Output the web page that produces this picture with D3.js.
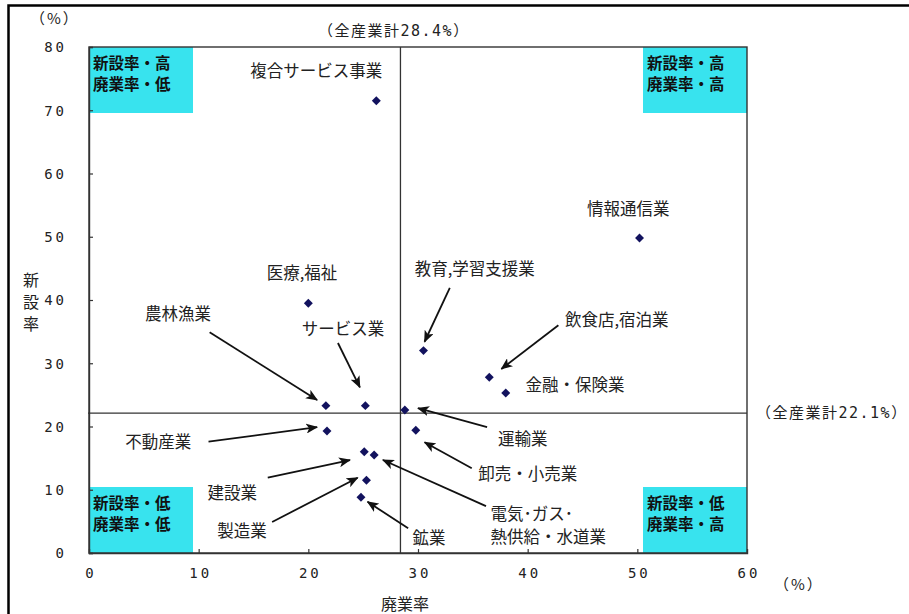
<!DOCTYPE html>
<html lang="ja">
<head>
<meta charset="utf-8">
<script src="https://cdn.jsdelivr.net/npm/d3@7"></script>
<style>
  html, body { margin: 0; padding: 0; background: #fff; }
  svg { display: block; }
  .num { font-family: "DejaVu Sans Mono", "Liberation Mono", monospace; font-size: 14px; fill: #222; }
  .cat { font-family: "Noto Sans CJK JP", "Noto Sans", sans-serif; font-size: 16.5px; fill: #222; }
  .quad { font-family: "Noto Sans CJK JP", sans-serif; font-size: 15.5px; font-weight: bold; fill: #111; }
  .ref { font-family: "DejaVu Sans Mono", "Noto Sans CJK JP", monospace; font-size: 15px; fill: #222; letter-spacing: 1.5px; }
  .unit { font-family: "Noto Sans CJK JP", sans-serif; font-size: 15px; fill: #222; letter-spacing: 2px; }
  .title { font-family: "Noto Sans CJK JP", sans-serif; font-size: 16px; fill: #222; }
</style>
</head>
<body>
<script>
// Industry names, closure rate (x, %) and opening rate (y, %)
const industries = [
  "複合サービス事業", "情報通信業", "医療,福祉", "教育,学習支援業", "飲食店,宿泊業",
  "金融・保険業", "農林漁業", "サービス業", "運輸業", "不動産業",
  "卸売・小売業", "建設業", "電気・ガス・熱供給・水道業", "製造業", "鉱業"
];
const closureRate = [26.2, 50.2, 20.0, 30.5, 36.5, 38.0, 21.6, 25.2, 28.8, 21.7, 29.8, 25.1, 26.0, 25.3, 24.8];
const openingRate = [71.5, 49.8, 39.5, 32.0, 27.8, 25.3, 23.3, 23.3, 22.6, 19.3, 19.4, 16.0, 15.5, 11.5, 8.8];

// All-industry totals used as the quadrant dividers
const totalClosure = 28.4;
const totalOpening = 22.1;

const xTicks = [0, 10, 20, 30, 40, 50, 60];
const yTicks = [0, 10, 20, 30, 40, 50, 60, 70, 80];

// Quadrant captions
const quadrants = [
  { corner: "tl", lines: ["新設率・高", "廃業率・低"] },
  { corner: "tr", lines: ["新設率・高", "廃業率・高"] },
  { corner: "bl", lines: ["新設率・低", "廃業率・低"] },
  { corner: "br", lines: ["新設率・低", "廃業率・高"] }
];

// Label placement in data units: text anchor, and optional arrow from -> to
const labelLayout = [
  { i: 0,  lines: ["複合サービス事業"], at: [14.7, 76.4] },
  { i: 1,  lines: ["情報通信業"], at: [45.4, 54.6] },
  { i: 2,  lines: ["医療,福祉"], at: [16.2, 44.4] },
  { i: 3,  lines: ["教育,学習支援業"], at: [29.7, 45.1], from: [32.9, 41.9], to: [30.6, 33.4] },
  { i: 4,  lines: ["飲食店,宿泊業"], at: [43.4, 37.0], from: [42.8, 36.0], to: [37.6, 29.1] },
  { i: 5,  lines: ["金融・保険業"], at: [39.8, 26.7] },
  { i: 6,  lines: ["農林漁業"], at: [5.1, 37.9], from: [11.0, 34.9], to: [20.8, 24.2] },
  { i: 7,  lines: ["サービス業"], at: [19.4, 35.6], from: [22.7, 33.2], to: [24.7, 26.2] },
  { i: 8,  lines: ["運輸業"], at: [37.3, 18.2], from: [36.3, 19.9], to: [30.0, 22.9] },
  { i: 9,  lines: ["不動産業"], at: [3.3, 17.7], from: [10.9, 17.6], to: [20.8, 19.9] },
  { i: 10, lines: ["卸売・小売業"], at: [35.5, 12.6], from: [34.9, 13.4], to: [30.6, 17.5] },
  { i: 11, lines: ["建設業"], at: [10.8, 9.6], from: [16.3, 11.9], to: [23.8, 14.7] },
  { i: 12, lines: ["電気･ガス･", "熱供給・水道業"], at: [36.6, 6.3], from: [36.2, 7.4], to: [26.8, 14.7] },
  { i: 13, lines: ["製造業"], at: [11.7, 3.6], from: [16.7, 4.9], to: [24.5, 11.9] },
  { i: 14, lines: ["鉱業"], at: [29.5, 2.5], from: [29.1, 3.9], to: [25.4, 8.1] }
];

const W = 909, H = 614;
const plot = { left: 89, right: 747, top: 47, bottom: 553 };

const x = d3.scaleLinear().domain([0, 60]).range([plot.left, plot.right]);
const y = d3.scaleLinear().domain([0, 80]).range([plot.bottom, plot.top]);

const svg = d3.select("body").append("svg")
  .attr("width", W).attr("height", H)
  .attr("viewBox", `0 0 ${W} ${H}`);

svg.append("rect").attr("width", W).attr("height", H).attr("fill", "#fff");

// Outer frame around the figure
svg.append("rect")
  .attr("x", 8.5).attr("y", 5.5)
  .attr("width", W + 20).attr("height", H + 20)
  .attr("fill", "none").attr("stroke", "#000").attr("stroke-width", 2.5);

const defs = svg.append("defs");
defs.append("marker")
  .attr("id", "arrowhead")
  .attr("viewBox", "0 0 12 10")
  .attr("refX", 11).attr("refY", 5)
  .attr("markerWidth", 12).attr("markerHeight", 10)
  .attr("markerUnits", "userSpaceOnUse")
  .attr("orient", "auto")
  .append("path").attr("d", "M0,0 L12,5 L0,10 L3,5 Z").attr("fill", "#111");

// Quadrant caption boxes
const boxW = 104, boxH = 66;
const qg = svg.append("g");
quadrants.forEach(q => {
  const bx = q.corner.endsWith("l") ? x(0) : x(60) - boxW;
  const by = q.corner.startsWith("t") ? y(80) : y(0) - boxH;
  qg.append("rect").attr("x", bx).attr("y", by)
    .attr("width", boxW).attr("height", boxH).attr("fill", "#38e3ee");
  q.lines.forEach((t, k) => {
    qg.append("text").attr("class", "quad")
      .attr("x", bx + 4).attr("y", by + 15 + k * 21)
      .attr("dominant-baseline", "central")
      .text(t);
  });
});

// Plot frame
const frame = svg.append("g").attr("stroke", "#333").attr("stroke-width", 1.4).attr("fill", "none");
frame.append("rect")
  .attr("x", x(0)).attr("y", y(80))
  .attr("width", x(60) - x(0)).attr("height", y(0) - y(80));

// Axes with inward ticks
const xAxis = d3.axisBottom(x).tickValues(xTicks).tickSize(-4).tickPadding(22).tickFormat(d3.format("d"));
const yAxis = d3.axisLeft(y).tickValues(yTicks).tickSize(-4).tickPadding(22).tickFormat(d3.format("d"));

const gx = svg.append("g").attr("transform", `translate(0,${y(0)})`).call(xAxis);
const gy = svg.append("g").attr("transform", `translate(${x(0)},0)`).call(yAxis);
[gx, gy].forEach(g => {
  g.select(".domain").attr("stroke", "#333").attr("stroke-width", 1.4);
  g.selectAll(".tick line").attr("stroke", "#333").attr("stroke-width", 1.2);
  g.selectAll(".tick text").attr("class", "num").attr("fill", "#222").attr("letter-spacing", "3px");
});
gx.selectAll(".tick text").attr("dy", "0.2em").attr("dx", "1.5px");
gy.selectAll(".tick text").attr("dy", "0.35em").attr("dx", "0px");
gx.selectAll(".tick").filter(d => d === 0 || d === 60).select("line").remove();

// All-industry reference lines
svg.append("line")
  .attr("x1", x(totalClosure)).attr("x2", x(totalClosure))
  .attr("y1", y(80)).attr("y2", y(0))
  .attr("stroke", "#333").attr("stroke-width", 1.3);
svg.append("line")
  .attr("x1", x(0) - 1).attr("x2", x(60))
  .attr("y1", y(totalOpening)).attr("y2", y(totalOpening))
  .attr("stroke", "#333").attr("stroke-width", 1.3);

svg.append("text").attr("class", "ref")
  .attr("x", 318).attr("y", 31).attr("dominant-baseline", "central")
  .text(`（全産業計${totalClosure.toFixed(1)}%）`);
svg.append("text").attr("class", "ref")
  .attr("x", 756).attr("y", y(totalOpening)).attr("dominant-baseline", "central")
  .attr("font-size", "14.5px").attr("letter-spacing", "0.5px")
  .text(`（全産業計${totalOpening.toFixed(1)}%）`);

// Unit labels and axis titles
svg.append("text").attr("class", "unit").attr("x", 30).attr("y", 17)
  .attr("dominant-baseline", "central").text("（%）");
svg.append("text").attr("class", "unit").attr("x", 774).attr("y", 583)
  .attr("dominant-baseline", "central").text("（%）");
svg.append("text").attr("class", "title")
  .attr("x", (x(0) + x(60)) / 2 - 13).attr("y", 603)
  .attr("text-anchor", "middle").attr("dominant-baseline", "central").text("廃業率");
const yt = svg.append("text").attr("class", "title").attr("text-anchor", "middle");
["新", "設", "率"].forEach((c, k) => {
  yt.append("tspan").attr("x", 31).attr("y", 279 + k * 22)
    .attr("dominant-baseline", "central").text(c);
});

// Leader arrows
const arrows = svg.append("g");
labelLayout.filter(d => d.from).forEach(d => {
  arrows.append("line")
    .attr("x1", x(d.from[0])).attr("y1", y(d.from[1]))
    .attr("x2", x(d.to[0])).attr("y2", y(d.to[1]))
    .attr("stroke", "#111").attr("stroke-width", 1.8)
    .attr("marker-end", "url(#arrowhead)");
});

// Category labels
const labels = svg.append("g");
labelLayout.forEach(d => {
  d.lines.forEach((t, k) => {
    labels.append("text").attr("class", "cat")
      .attr("x", x(d.at[0])).attr("y", y(d.at[1]) + k * 23)
      .attr("dominant-baseline", "central")
      .text(t);
  });
});

// Data points: diamonds
const pts = industries.map((name, i) => ({ name, cx: closureRate[i], cy: openingRate[i] }));
svg.append("g").selectAll("path")
  .data(pts)
  .join("path")
  .attr("d", d3.symbol(d3.symbolSquare, 40)())
  .attr("transform", d => `translate(${x(d.cx)},${y(d.cy)}) rotate(45)`)
  .attr("fill", "#12125e");
</script>
</body>
</html>
